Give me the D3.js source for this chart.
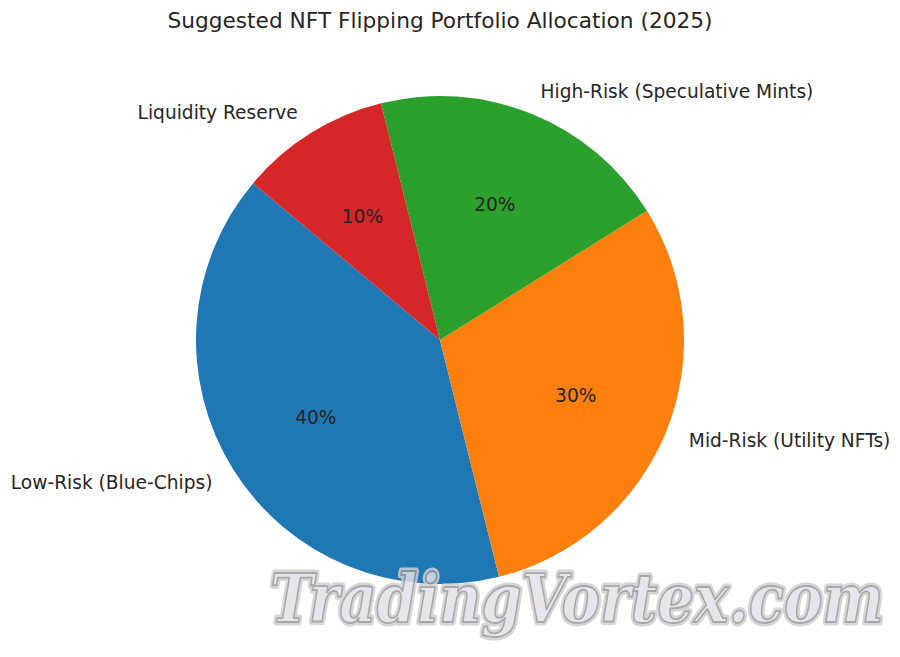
<!DOCTYPE html>
<html>
<head>
<meta charset="utf-8">
<script src="https://cdn.jsdelivr.net/npm/d3@7"></script>
<style>
  html, body { margin: 0; padding: 0; background: #ffffff; }
  svg { display: block; }
</style>
</head>
<body>
<svg id="chart" width="900" height="657"></svg>
<script>
const categories = ["Low-Risk (Blue-Chips)", "Mid-Risk (Utility NFTs)", "High-Risk (Speculative Mints)", "Liquidity Reserve"];
const values = [40, 30, 20, 10];
const colors = ["#1f77b4", "#ff7f0e", "#2ca02c", "#d62728"];
const title = "Suggested NFT Flipping Portfolio Allocation (2025)";
const watermark = "TradingVortex.com";

const svg = d3.select("#chart");
const cx = 440, cy = 340, r = 244;
const font = "DejaVu Sans, sans-serif";

// matplotlib style: startangle 140 deg, counterclockwise
const startDeg = 140;
const total = d3.sum(values);
let acc = startDeg;
const slices = values.map((v, i) => {
  const a0 = acc;
  const a1 = acc + v / total * 360;
  acc = a1;
  return { i, v, a0, a1, mid: (a0 + a1) / 2 };
});

const toD3 = d => (90 - d) * Math.PI / 180;
const arc = d3.arc().innerRadius(0).outerRadius(r);

const g = svg.append("g").attr("transform", `translate(${cx},${cy})`);

g.selectAll("path.slice")
  .data(slices)
  .join("path")
  .attr("class", "slice")
  .attr("d", d => arc({ startAngle: toD3(d.a1), endAngle: toD3(d.a0) }))
  .attr("fill", d => colors[d.i]);

const pos = (deg, f) => [f * r * Math.cos(deg * Math.PI / 180), -f * r * Math.sin(deg * Math.PI / 180)];

g.selectAll("text.label")
  .data(slices)
  .join("text")
  .attr("class", "label")
  .attr("x", d => pos(d.mid, 1.1)[0])
  .attr("y", d => pos(d.mid, 1.1)[1])
  .attr("dy", "0.36em")
  .attr("text-anchor", d => pos(d.mid, 1.1)[0] >= 0 ? "start" : "end")
  .attr("font-family", font)
  .attr("font-size", 18.6)
  .attr("fill", "#262626")
  .text(d => categories[d.i]);

g.selectAll("text.pct")
  .data(slices)
  .join("text")
  .attr("class", "pct")
  .attr("x", d => pos(d.mid, 0.6)[0])
  .attr("y", d => pos(d.mid, 0.6)[1])
  .attr("dy", "0.36em")
  .attr("text-anchor", "middle")
  .attr("font-family", font)
  .attr("font-size", 18.6)
  .attr("fill", "#262626")
  .text(d => d3.format(".0f")(d.v / total * 100) + "%");

svg.append("text")
  .attr("x", 440)
  .attr("y", 28)
  .attr("text-anchor", "middle")
  .attr("font-family", font)
  .attr("font-size", 21.7)
  .attr("fill", "#262626")
  .text(title);

// watermark, horizontally scaled to fit its box
const wmX = 270, wmY = 622, wmW = 614;
const wm = svg.append("g").attr("opacity", 0.85);
const styles = [
  { fill: "none", stroke: "#d0d0d0", sw: 6 },
  { fill: "#e4e0ea", stroke: "#9a9a9a", sw: 1.5 }
];
styles.forEach(s => {
  const t = wm.append("text")
    .attr("x", 0)
    .attr("y", 0)
    .attr("font-family", "DejaVu Serif, serif")
    .attr("font-weight", "bold")
    .attr("font-style", "italic")
    .attr("font-size", 68)
    .attr("fill", s.fill)
    .attr("stroke", s.stroke)
    .attr("stroke-width", s.sw)
    .attr("stroke-linejoin", "round")
    .text(watermark);
  const w = t.node().getComputedTextLength() || wmW;
  const sx = wmW / w;
  t.attr("transform", `translate(${wmX},${wmY}) scale(${sx},1)`)
   .attr("stroke-width", s.sw / sx);
});
</script>
</body>
</html>
